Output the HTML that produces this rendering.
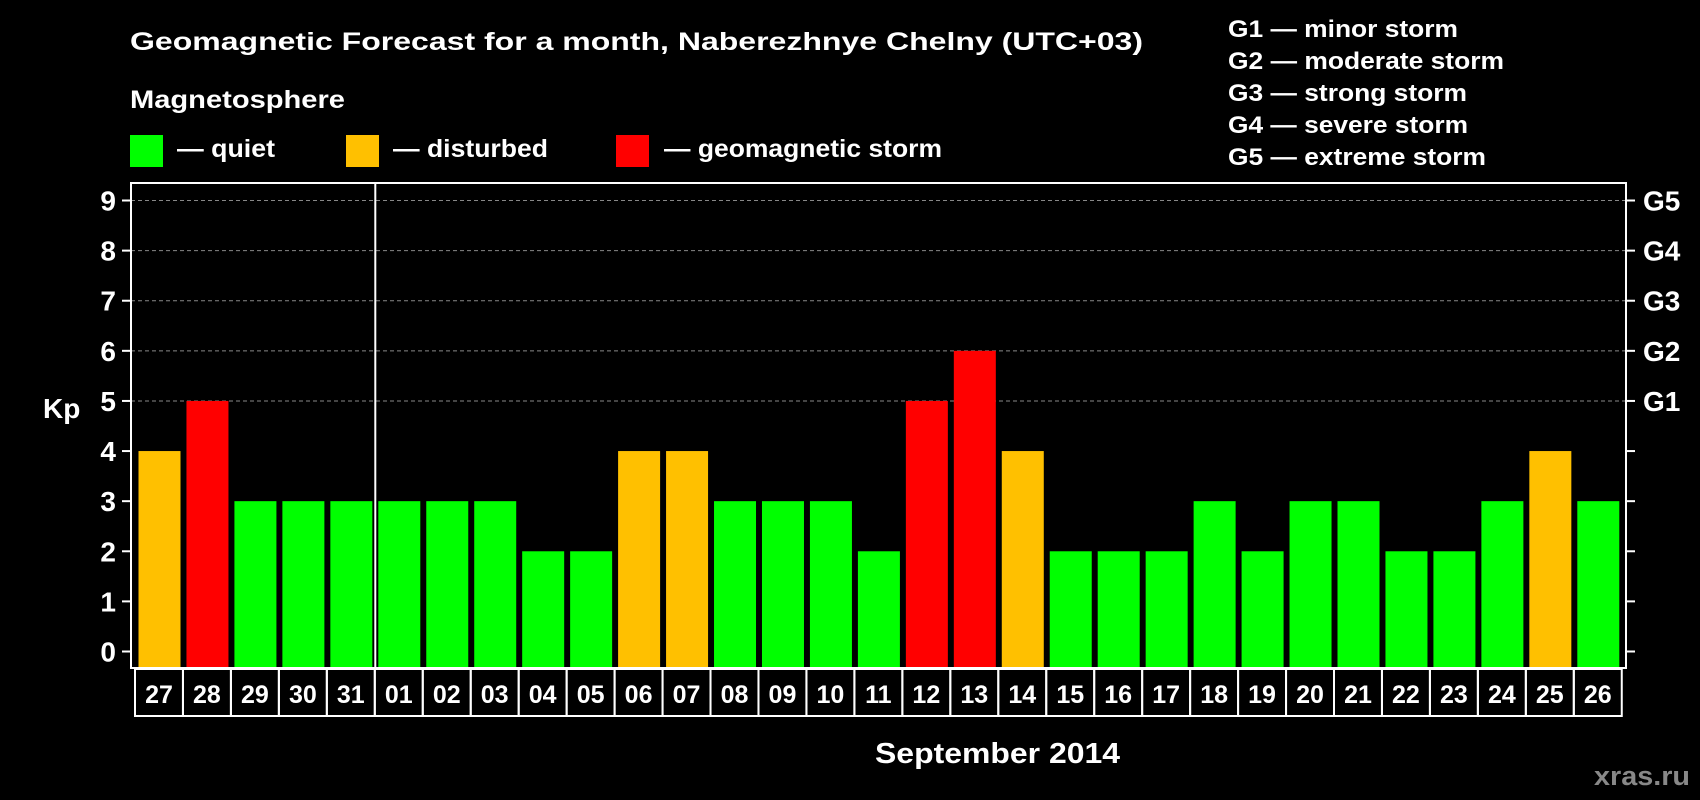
<!DOCTYPE html>
<html><head><meta charset="utf-8"><style>
html,body{margin:0;padding:0;background:#000;}
svg{display:block;font-family:"Liberation Sans",Arial,sans-serif;font-weight:bold;}
</style></head><body>
<svg id="chart" width="1700" height="800" viewBox="0 0 1700 800">
<rect width="1700" height="800" fill="#000"/>
<text x="130" y="50" fill="#fff" font-size="25" textLength="1013" lengthAdjust="spacingAndGlyphs">Geomagnetic Forecast for a month, Naberezhnye Chelny (UTC+03)</text>
<text x="130" y="108" fill="#fff" font-size="25" textLength="215" lengthAdjust="spacingAndGlyphs">Magnetosphere</text>
<g>
<rect x="130" y="135" width="33" height="32" fill="#00ff00"/>
<text x="177" y="157" fill="#fff" font-size="25" textLength="98" lengthAdjust="spacingAndGlyphs">— quiet</text>
<rect x="346" y="135" width="33" height="32" fill="#ffc000"/>
<text x="393" y="157" fill="#fff" font-size="25" textLength="155" lengthAdjust="spacingAndGlyphs">— disturbed</text>
<rect x="616" y="135" width="33" height="32" fill="#ff0000"/>
<text x="664" y="157" fill="#fff" font-size="25" textLength="278" lengthAdjust="spacingAndGlyphs">— geomagnetic storm</text>
</g>
<g fill="#fff" font-size="24">
<text x="1228" y="37" textLength="230" lengthAdjust="spacingAndGlyphs">G1 — minor storm</text>
<text x="1228" y="69" textLength="276" lengthAdjust="spacingAndGlyphs">G2 — moderate storm</text>
<text x="1228" y="101" textLength="239" lengthAdjust="spacingAndGlyphs">G3 — strong storm</text>
<text x="1228" y="133" textLength="240" lengthAdjust="spacingAndGlyphs">G4 — severe storm</text>
<text x="1228" y="165" textLength="258" lengthAdjust="spacingAndGlyphs">G5 — extreme storm</text>
</g>
<g id="grid"></g>
<g id="bars"></g>
<g id="axes"></g>
<text x="43" y="418" fill="#fff" font-size="28">Kp</text>
<text x="875" y="763" fill="#fff" font-size="29" textLength="245" lengthAdjust="spacingAndGlyphs">September 2014</text>
<text x="1594" y="785" fill="#888" font-size="27" textLength="96" lengthAdjust="spacingAndGlyphs">xras.ru</text>
</svg>
<script>
const days = ["27","28","29","30","31","01","02","03","04","05","06","07","08","09","10","11","12","13","14","15","16","17","18","19","20","21","22","23","24","25","26"];
const kpValues = [4,5,3,3,3,3,3,3,2,2,4,4,3,3,3,2,5,6,4,2,2,2,3,2,3,3,2,2,3,4,3];
const yTicks = [0,1,2,3,4,5,6,7,8,9];
const gLabels = ["G1","G2","G3","G4","G5"];
const gLevels = [5,6,7,8,9];
const monthBreak = 5;

const NS = "http://www.w3.org/2000/svg";
const L = 131, R = 1626, T = 183, B = 668;
const y0 = 651.5, yUnit = (651.5 - 200.5) / 9;
const step = 47.96;
function yScale(v){ return y0 - v * yUnit; }
function xLeft(i){ return 138.5 + i * step; }
function mk(tag, attrs, parent){ const e = document.createElementNS(NS, tag); for (const k in attrs) e.setAttribute(k, attrs[k]); parent.appendChild(e); return e; }
function color(v){ return v >= 5 ? "#ff0000" : (v >= 4 ? "#ffc000" : "#00ff00"); }

const grid = document.getElementById("grid"), bars = document.getElementById("bars"), axes = document.getElementById("axes");
yTicks.forEach(t => {
  if (t >= 5) {
    const g = mk("line", {x1:L, x2:R, y1:yScale(t), y2:yScale(t), stroke:"#888", "stroke-width":1, "stroke-dasharray":"4,3"}, grid);
    
    
  }
  const tk = mk("line", {x1:122, x2:L, y1:yScale(t), y2:yScale(t), stroke:"#fff", "stroke-width":2}, axes);
  
  
  const tr = mk("line", {x1:R, x2:R+9, y1:yScale(t), y2:yScale(t), stroke:"#fff", "stroke-width":2}, axes);
  
  
  const lb = mk("text", {x:116, y:yScale(t)+10, fill:"#fff", "font-size":28, "text-anchor":"end"}, axes);
  lb.textContent = t;
  
  
});
gLabels.forEach((g, i) => {
  const lb = mk("text", {x:1643, y:yScale(gLevels[i])+10, fill:"#fff", "font-size":28}, axes);
  lb.textContent = g;
  
  
});
kpValues.forEach((v, i) => {
  const b = mk("rect", {x:xLeft(i), y:yScale(v), width:42, height:B - yScale(v), fill:color(v)}, bars);
  
  
});
const fr = mk("rect", {x:L, y:T, width:R-L, height:B-T, fill:"none", stroke:"#fff", "stroke-width":2}, axes);


const sep = mk("line", {x1:xLeft(monthBreak)-3, x2:xLeft(monthBreak)-3, y1:T, y2:B, stroke:"#fff", "stroke-width":2}, axes);


days.forEach((d, i) => {
  const bx = mk("rect", {x:135 + i*step, y:669, width:step, height:47, fill:"none", stroke:"#fff", "stroke-width":2}, axes);
  
  
  const t = mk("text", {x:135 + i*step + step/2, y:703, fill:"#fff", "font-size":25, "text-anchor":"middle"}, axes);
  t.textContent = d;
  
  
});
</script>
</body></html>
